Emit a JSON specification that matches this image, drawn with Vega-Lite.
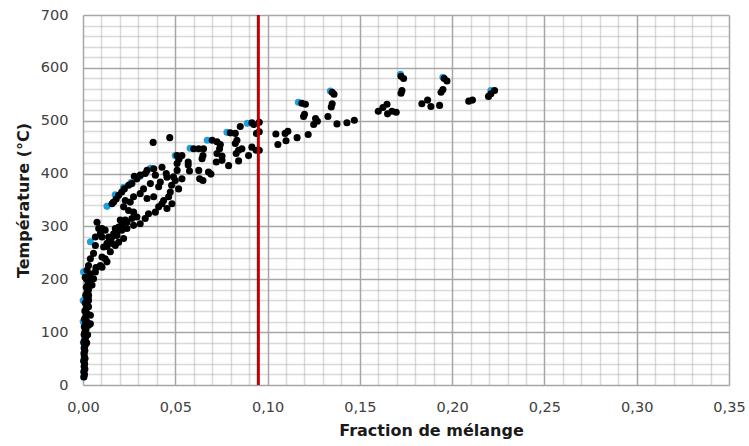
{
  "$schema": "https://vega.github.io/schema/vega-lite/v6.json",
  "autosize": {"type": "none"},
  "width": 646,
  "height": 370,
  "padding": {"left": 83, "top": 15, "right": 20, "bottom": 61},
  "background": "white",
  "config": {
    "view": {"stroke": null},
    "font": "DejaVu Sans",
    "axis": {
      "labelFont": "DejaVu Sans",
      "titleFont": "DejaVu Sans",
      "labelColor": "#404040",
      "titleColor": "#1a1a1a",
      "labelFontSize": 14.5,
      "titleFontSize": 16,
      "titleFontWeight": "bold",
      "ticks": false,
      "domain": false,
      "grid": true,
      "gridColor": "#a6a6a6",
      "gridWidth": 1.5,
      "tickCount": 100,
      "labelOverlap": false
    }
  },
  "datasets": {
    "pts": [
      {"series": "blue", "f": 0.0003, "t": 15},
      {"series": "blue", "f": 0.0003, "t": 47},
      {"series": "blue", "f": 0.0002, "t": 81},
      {"series": "blue", "f": 0.0001, "t": 120},
      {"series": "blue", "f": 0.0001, "t": 160},
      {"series": "blue", "f": 0.0003, "t": 214},
      {"series": "blue", "f": 0.004, "t": 271},
      {"series": "blue", "f": 0.013, "t": 338},
      {"series": "blue", "f": 0.0175, "t": 360},
      {"series": "blue", "f": 0.022, "t": 374},
      {"series": "blue", "f": 0.026, "t": 383},
      {"series": "blue", "f": 0.031, "t": 395},
      {"series": "blue", "f": 0.0365, "t": 410},
      {"series": "blue", "f": 0.05, "t": 434},
      {"series": "blue", "f": 0.058, "t": 448},
      {"series": "blue", "f": 0.0673, "t": 463},
      {"series": "blue", "f": 0.078, "t": 478},
      {"series": "blue", "f": 0.089, "t": 495},
      {"series": "blue", "f": 0.1167, "t": 535},
      {"series": "blue", "f": 0.134, "t": 556},
      {"series": "blue", "f": 0.172, "t": 588},
      {"series": "blue", "f": 0.195, "t": 582},
      {"series": "blue", "f": 0.221, "t": 557},

      {"series": "black", "f": 0.0005, "t": 15},
      {"series": "black", "f": 0.0008, "t": 20},
      {"series": "black", "f": 0.0004, "t": 25},
      {"series": "black", "f": 0.001, "t": 30},
      {"series": "black", "f": 0.0006, "t": 35},
      {"series": "black", "f": 0.0009, "t": 40},
      {"series": "black", "f": 0.0004, "t": 45},
      {"series": "black", "f": 0.0011, "t": 50},
      {"series": "black", "f": 0.0007, "t": 55},
      {"series": "black", "f": 0.0005, "t": 60},
      {"series": "black", "f": 0.001, "t": 65},
      {"series": "black", "f": 0.0006, "t": 70},
      {"series": "black", "f": 0.0012, "t": 75},
      {"series": "black", "f": 0.0005, "t": 80},
      {"series": "black", "f": 0.0009, "t": 85},
      {"series": "black", "f": 0.0014, "t": 90},
      {"series": "black", "f": 0.0006, "t": 95},
      {"series": "black", "f": 0.001, "t": 100},
      {"series": "black", "f": 0.0016, "t": 105},
      {"series": "black", "f": 0.0007, "t": 110},
      {"series": "black", "f": 0.0013, "t": 115},
      {"series": "black", "f": 0.002, "t": 120},
      {"series": "black", "f": 0.0008, "t": 125},
      {"series": "black", "f": 0.0015, "t": 130},
      {"series": "black", "f": 0.0022, "t": 135},
      {"series": "black", "f": 0.001, "t": 140},
      {"series": "black", "f": 0.0018, "t": 145},
      {"series": "black", "f": 0.0025, "t": 150},
      {"series": "black", "f": 0.0012, "t": 155},
      {"series": "black", "f": 0.002, "t": 160},
      {"series": "black", "f": 0.0028, "t": 165},
      {"series": "black", "f": 0.0015, "t": 170},
      {"series": "black", "f": 0.0023, "t": 175},
      {"series": "black", "f": 0.003, "t": 180},
      {"series": "black", "f": 0.0018, "t": 185},
      {"series": "black", "f": 0.0026, "t": 190},
      {"series": "black", "f": 0.0034, "t": 195},
      {"series": "black", "f": 0.002, "t": 200},
      {"series": "black", "f": 0.003, "t": 205},
      {"series": "black", "f": 0.004, "t": 210},
      {"series": "black", "f": 0.004, "t": 132},
      {"series": "black", "f": 0.004, "t": 116},
      {"series": "black", "f": 0.003, "t": 148},
      {"series": "black", "f": 0.0057, "t": 201},
      {"series": "black", "f": 0.0049, "t": 189},
      {"series": "black", "f": 0.003, "t": 170},
      {"series": "black", "f": 0.003, "t": 160},
      {"series": "black", "f": 0.003, "t": 113},
      {"series": "black", "f": 0.0025, "t": 95},
      {"series": "black", "f": 0.002, "t": 80},

      {"series": "black", "f": 0.0166, "t": 346},
      {"series": "black", "f": 0.018, "t": 352},
      {"series": "black", "f": 0.0076, "t": 308},
      {"series": "black", "f": 0.0085, "t": 296},
      {"series": "black", "f": 0.0094, "t": 286},
      {"series": "black", "f": 0.0067, "t": 280},
      {"series": "black", "f": 0.0067, "t": 264},
      {"series": "black", "f": 0.0057, "t": 249},
      {"series": "black", "f": 0.004, "t": 239},
      {"series": "black", "f": 0.003, "t": 226},
      {"series": "black", "f": 0.0022, "t": 217},
      {"series": "black", "f": 0.0012, "t": 204},
      {"series": "black", "f": 0.0112, "t": 261},
      {"series": "black", "f": 0.0139, "t": 270},
      {"series": "black", "f": 0.0157, "t": 280},
      {"series": "black", "f": 0.0184, "t": 289},
      {"series": "black", "f": 0.021, "t": 302},
      {"series": "black", "f": 0.0229, "t": 312},
      {"series": "black", "f": 0.013, "t": 233},
      {"series": "black", "f": 0.0094, "t": 226},
      {"series": "black", "f": 0.0103, "t": 242},
      {"series": "black", "f": 0.0067, "t": 214},
      {"series": "black", "f": 0.007, "t": 222},
      {"series": "black", "f": 0.0103, "t": 223},
      {"series": "black", "f": 0.012, "t": 239},
      {"series": "black", "f": 0.0148, "t": 252},
      {"series": "black", "f": 0.0175, "t": 264},
      {"series": "black", "f": 0.0193, "t": 270},
      {"series": "black", "f": 0.013, "t": 262},

      {"series": "black", "f": 0.0157, "t": 343},
      {"series": "black", "f": 0.0193, "t": 359},
      {"series": "black", "f": 0.021, "t": 365},
      {"series": "black", "f": 0.0224, "t": 371},
      {"series": "black", "f": 0.0247, "t": 378},
      {"series": "black", "f": 0.0265, "t": 381},
      {"series": "black", "f": 0.0278, "t": 395},
      {"series": "black", "f": 0.0292, "t": 390},
      {"series": "black", "f": 0.031, "t": 397},
      {"series": "black", "f": 0.0337, "t": 400},
      {"series": "black", "f": 0.0347, "t": 406},
      {"series": "black", "f": 0.0383, "t": 409},
      {"series": "black", "f": 0.0392, "t": 397},
      {"series": "black", "f": 0.0428, "t": 412},
      {"series": "black", "f": 0.0451, "t": 400},
      {"series": "black", "f": 0.0455, "t": 393},
      {"series": "black", "f": 0.0419, "t": 384},
      {"series": "black", "f": 0.041, "t": 375},
      {"series": "black", "f": 0.0473, "t": 365},
      {"series": "black", "f": 0.0437, "t": 349},
      {"series": "black", "f": 0.0428, "t": 343},
      {"series": "black", "f": 0.0383, "t": 356},
      {"series": "black", "f": 0.0347, "t": 353},
      {"series": "black", "f": 0.0365, "t": 381},
      {"series": "black", "f": 0.0328, "t": 371},
      {"series": "black", "f": 0.031, "t": 362},
      {"series": "black", "f": 0.0274, "t": 356},
      {"series": "black", "f": 0.0256, "t": 346},
      {"series": "black", "f": 0.0229, "t": 349},
      {"series": "black", "f": 0.022, "t": 337},
      {"series": "black", "f": 0.0247, "t": 330},
      {"series": "black", "f": 0.0274, "t": 327},
      {"series": "black", "f": 0.0292, "t": 318},
      {"series": "black", "f": 0.0265, "t": 315},
      {"series": "black", "f": 0.0238, "t": 308},
      {"series": "black", "f": 0.0202, "t": 312},
      {"series": "black", "f": 0.0193, "t": 299},
      {"series": "black", "f": 0.021, "t": 293},
      {"series": "black", "f": 0.0175, "t": 296},
      {"series": "black", "f": 0.0166, "t": 286},
      {"series": "black", "f": 0.0139, "t": 280},
      {"series": "black", "f": 0.012, "t": 293},
      {"series": "black", "f": 0.0103, "t": 296},
      {"series": "black", "f": 0.0103, "t": 280},
      {"series": "black", "f": 0.013, "t": 268},
      {"series": "black", "f": 0.0157, "t": 268},
      {"series": "black", "f": 0.0184, "t": 283},
      {"series": "black", "f": 0.022, "t": 277},
      {"series": "black", "f": 0.0238, "t": 296},
      {"series": "black", "f": 0.0274, "t": 302},
      {"series": "black", "f": 0.031, "t": 305},
      {"series": "black", "f": 0.0337, "t": 315},
      {"series": "black", "f": 0.0355, "t": 324},
      {"series": "black", "f": 0.0392, "t": 327},
      {"series": "black", "f": 0.041, "t": 337},
      {"series": "black", "f": 0.0455, "t": 334},
      {"series": "black", "f": 0.0464, "t": 356},
      {"series": "black", "f": 0.0482, "t": 343},
      {"series": "black", "f": 0.049, "t": 394},
      {"series": "black", "f": 0.051, "t": 419},
      {"series": "black", "f": 0.052, "t": 427},
      {"series": "black", "f": 0.038, "t": 459},
      {"series": "black", "f": 0.047, "t": 468},

      {"series": "black", "f": 0.051, "t": 434},
      {"series": "black", "f": 0.0536, "t": 434},
      {"series": "black", "f": 0.057, "t": 422},
      {"series": "black", "f": 0.057, "t": 416},
      {"series": "black", "f": 0.0577, "t": 405},
      {"series": "black", "f": 0.051, "t": 406},
      {"series": "black", "f": 0.05, "t": 387},
      {"series": "black", "f": 0.0536, "t": 390},
      {"series": "black", "f": 0.0518, "t": 371},
      {"series": "black", "f": 0.048, "t": 378},
      {"series": "black", "f": 0.06, "t": 447},
      {"series": "black", "f": 0.0627, "t": 447},
      {"series": "black", "f": 0.0653, "t": 447},
      {"series": "black", "f": 0.065, "t": 434},
      {"series": "black", "f": 0.0645, "t": 428},
      {"series": "black", "f": 0.0632, "t": 390},
      {"series": "black", "f": 0.065, "t": 387},
      {"series": "black", "f": 0.0627, "t": 406},
      {"series": "black", "f": 0.068, "t": 403},
      {"series": "black", "f": 0.0693, "t": 399},
      {"series": "black", "f": 0.07, "t": 463},
      {"series": "black", "f": 0.0726, "t": 460},
      {"series": "black", "f": 0.0744, "t": 455},
      {"series": "black", "f": 0.074, "t": 447},
      {"series": "black", "f": 0.0726, "t": 438},
      {"series": "black", "f": 0.0753, "t": 433},
      {"series": "black", "f": 0.0722, "t": 422},
      {"series": "black", "f": 0.0753, "t": 425},
      {"series": "black", "f": 0.0798, "t": 477},
      {"series": "black", "f": 0.0825, "t": 476},
      {"series": "black", "f": 0.0834, "t": 463},
      {"series": "black", "f": 0.0825, "t": 457},
      {"series": "black", "f": 0.0843, "t": 444},
      {"series": "black", "f": 0.083, "t": 438},
      {"series": "black", "f": 0.0861, "t": 447},
      {"series": "black", "f": 0.0852, "t": 489},
      {"series": "black", "f": 0.0789, "t": 415},
      {"series": "black", "f": 0.0843, "t": 424},
      {"series": "black", "f": 0.0897, "t": 434},
      {"series": "black", "f": 0.0915, "t": 450},
      {"series": "black", "f": 0.0915, "t": 496},
      {"series": "black", "f": 0.0925, "t": 493},
      {"series": "black", "f": 0.094, "t": 476},
      {"series": "black", "f": 0.0938, "t": 444},

      {"series": "black", "f": 0.0955, "t": 497},
      {"series": "black", "f": 0.0955, "t": 479},
      {"series": "black", "f": 0.0955, "t": 444},
      {"series": "black", "f": 0.1045, "t": 475},
      {"series": "black", "f": 0.1056, "t": 455},
      {"series": "black", "f": 0.11, "t": 462},
      {"series": "black", "f": 0.111, "t": 480},
      {"series": "black", "f": 0.1095, "t": 476},
      {"series": "black", "f": 0.116, "t": 468},
      {"series": "black", "f": 0.122, "t": 474},
      {"series": "black", "f": 0.1186, "t": 533},
      {"series": "black", "f": 0.1205, "t": 531},
      {"series": "black", "f": 0.12, "t": 512},
      {"series": "black", "f": 0.1195, "t": 508},
      {"series": "black", "f": 0.125, "t": 493},
      {"series": "black", "f": 0.126, "t": 504},
      {"series": "black", "f": 0.127, "t": 499},
      {"series": "black", "f": 0.1327, "t": 508},
      {"series": "black", "f": 0.135, "t": 554},
      {"series": "black", "f": 0.136, "t": 550},
      {"series": "black", "f": 0.135, "t": 532},
      {"series": "black", "f": 0.1345, "t": 526},
      {"series": "black", "f": 0.1376, "t": 494},
      {"series": "black", "f": 0.143, "t": 496},
      {"series": "black", "f": 0.147, "t": 501},
      {"series": "black", "f": 0.16, "t": 518},
      {"series": "black", "f": 0.1625, "t": 525},
      {"series": "black", "f": 0.1647, "t": 531},
      {"series": "black", "f": 0.165, "t": 513},
      {"series": "black", "f": 0.1674, "t": 518},
      {"series": "black", "f": 0.1697, "t": 516},
      {"series": "black", "f": 0.1723, "t": 584},
      {"series": "black", "f": 0.1737, "t": 580},
      {"series": "black", "f": 0.1728, "t": 557},
      {"series": "black", "f": 0.1723, "t": 552},
      {"series": "black", "f": 0.1836, "t": 532},
      {"series": "black", "f": 0.1867, "t": 539},
      {"series": "black", "f": 0.1885, "t": 527},
      {"series": "black", "f": 0.1932, "t": 529},
      {"series": "black", "f": 0.1957, "t": 580},
      {"series": "black", "f": 0.1972, "t": 575},
      {"series": "black", "f": 0.195, "t": 559},
      {"series": "black", "f": 0.194, "t": 554},
      {"series": "black", "f": 0.209, "t": 537},
      {"series": "black", "f": 0.211, "t": 539},
      {"series": "black", "f": 0.2197, "t": 546},
      {"series": "black", "f": 0.221, "t": 551},
      {"series": "black", "f": 0.223, "t": 557}
    ],
    "limit": [{"f": 0.095}]
  },
  "layer": [
    {
      "data": {"name": "pts"},
      "transform": [{"filter": "datum.series === 'blue'"}],
      "mark": {"type": "circle", "size": 50, "opacity": 1, "color": "#1e9fdc"},
      "encoding": {
        "x": {
          "field": "f", "type": "quantitative",
          "scale": {"domain": [0, 0.35], "nice": false, "zero": true},
          "axis": {
            "title": "Fraction de mélange",
            "values": [0, 0.01, 0.02, 0.03, 0.04, 0.05, 0.06, 0.07, 0.08, 0.09, 0.1, 0.11, 0.12, 0.13, 0.14, 0.15, 0.16, 0.17, 0.18, 0.19, 0.2, 0.21, 0.22, 0.23, 0.24, 0.25, 0.26, 0.27, 0.28, 0.29, 0.3, 0.31, 0.32, 0.33, 0.34, 0.35],
            "labelExpr": "round(datum.value * 100) % 5 === 0 ? replace(format(datum.value, '.2f'), '.', ',') : ''",
            "gridOpacity": {"condition": {"test": "round(datum.value * 100) % 5 !== 0", "value": 0.42}, "value": 1},
            "labelPadding": 15,
            "titlePadding": 9,
            "titleX": 348,
            "labelFlush": false
          }
        },
        "y": {
          "field": "t", "type": "quantitative",
          "scale": {"domain": [0, 700], "nice": false},
          "axis": {
            "title": "Température (°C)",
            "values": [0, 20, 40, 60, 80, 100, 120, 140, 160, 180, 200, 220, 240, 260, 280, 300, 320, 340, 360, 380, 400, 420, 440, 460, 480, 500, 520, 540, 560, 580, 600, 620, 640, 660, 680, 700],
            "labelExpr": "round(datum.value) % 100 === 0 ? format(datum.value, 'd') : ''",
            "gridOpacity": {"condition": {"test": "round(datum.value) % 100 !== 0", "value": 0.42}, "value": 1},
            "labelPadding": 15,
            "titlePadding": 9
          }
        }
      }
    },
    {
      "data": {"name": "pts"},
      "transform": [{"filter": "datum.series === 'black'"}],
      "mark": {"type": "circle", "size": 50, "opacity": 1, "color": "#000000"},
      "encoding": {
        "x": {"field": "f", "type": "quantitative"},
        "y": {"field": "t", "type": "quantitative"}
      }
    },
    {
      "data": {"name": "limit"},
      "mark": {"type": "rule", "color": "#c00000", "strokeWidth": 3},
      "encoding": {
        "x": {"field": "f", "type": "quantitative"}
      }
    }
  ]
}
